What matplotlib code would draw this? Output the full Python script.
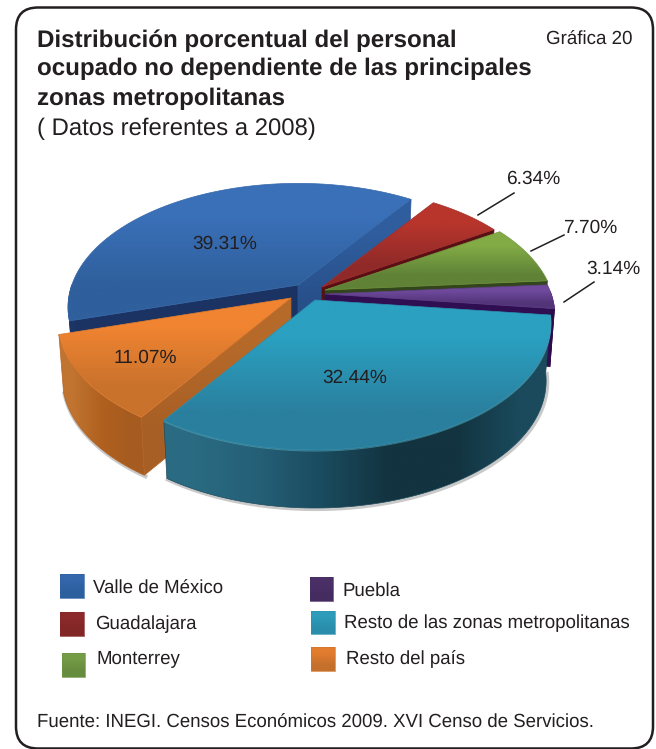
import numpy as np
import matplotlib
matplotlib.use('Agg')
import matplotlib.pyplot as plt
from matplotlib.patches import Polygon, FancyBboxPatch
from matplotlib.colors import to_rgb

plt.rcParams['font.family'] = ['Liberation Sans', 'DejaVu Sans']
plt.rcParams['text.hinting'] = 'no_hinting'

# datos
categorias = ['Valle de México', 'Guadalajara', 'Monterrey', 'Puebla',
              'Resto de las zonas metropolitanas', 'Resto del país']
valores = [39.31, 6.34, 7.70, 3.14, 32.44, 11.07]
titulo = ['Distribución porcentual del personal',
          'ocupado no dependiente de las principales',
          'zonas metropolitanas']
subtitulo = '( Datos referentes a 2008)'
fuente = 'Fuente: INEGI. Censos Económicos 2009. XVI Censo de Servicios.'

# estilos: tapa (arriba, abajo), pared exterior, pared inicial, pared final
ESTILO = {
    'Valle de México': dict(tapa=('#3a70b8', '#2f5f9c'), ext=('#1c3566', '#1c3566'),
                            ini=('#2f5d9d', '#274f88'), fin=('#1b3363', '#1b3363')),
    'Guadalajara': dict(tapa=('#b8352c', '#8f2a29'), ext=None, ini=('#5a0f14', '#5a0f14'), fin=None),
    'Monterrey': dict(tapa=('#83ab45', '#5f8237'), ext=None, ini=('#33451c', '#33451c'), fin=None),
    'Puebla': dict(tapa=('#6f4a9c', '#523478'), ext=('#2f0f52', '#2a0d48'),
                   ini=('#2f0f52', '#2f0f52'), fin=None),
    'Resto de las zonas metropolitanas': dict(tapa=('#2ba0c0', '#2a7f9e'),
                   ext=('#2a6b82', '#245f76', '#1a4a5e', '#12333f', '#12333f', '#1a4a5c'),
                   ini=None, fin=None),
    'Resto del país': dict(tapa=('#f08431', '#c9722c'), ext=('#c07430', '#b0601f', '#a65c20'),
                           ini=None, fin=('#b66a2a', '#a85f25')),
}
VERTICE = {'Valle de México': (298, 285), 'Guadalajara': (322, 287), 'Monterrey': (325, 290),
           'Puebla': (325, 294), 'Resto de las zonas metropolitanas': (315, 300),
           'Resto del país': (291, 298)}
ESCALA = {'Valle de México': 0.975, 'Guadalajara': 0.96, 'Monterrey': 0.975, 'Puebla': 0.975,
          'Resto de las zonas metropolitanas': 1.0, 'Resto del país': 0.99}
ORDEN = ['Valle de México', 'Guadalajara', 'Monterrey', 'Puebla', 'Resto del país',
         'Resto de las zonas metropolitanas']
INICIO = 55.0
RX, RY, K, ALTO = 232.0, 123.0, 0.18, 58.0
TXT = '#231f20'

fig = plt.figure(figsize=(6.56, 7.49), dpi=100)
ax = fig.add_axes([0, 0, 1, 1])
ax.set_axis_off()


def proyecta(ang, v, esc, abajo=False):
    a = np.radians(ang)
    p = esc / (1 + K * np.sin(a))
    dx = RX * np.cos(a) * p
    dy = RY * np.sin(a) * p
    if abajo:
        return np.column_stack([v[0] + dx * 0.98, v[1] - dy + ALTO])
    return np.column_stack([v[0] + dx, v[1] - dy])


def relleno(pts, colores, horizontal=False, z=1):
    pts = np.asarray(pts)
    c = np.array([to_rgb(x) for x in colores])
    g = c[None, :, :] if horizontal else c[:, None, :]
    x0, x1, y0, y1 = pts[:, 0].min(), pts[:, 0].max(), pts[:, 1].min(), pts[:, 1].max()
    im = ax.imshow(g, extent=[x0, x1, y1, y0], aspect='auto', interpolation='bilinear', zorder=z)
    pol = Polygon(pts, closed=True, fc='none', ec='none', transform=ax.transData)
    ax.add_patch(pol)
    im.set_clip_path(pol)
    ax.add_patch(Polygon(pts, closed=True, fill=False, ec=c.mean(axis=0), lw=0.5, zorder=z))


# angulos de cada rebanada a partir de los valores, en sentido antihorario
angulos = {}
a0 = INICIO
for i in [0, 5, 4, 3, 2, 1]:
    a1 = a0 + valores[i] * 3.6
    angulos[categorias[i]] = (a0, a1)
    a0 = a1

z = 2
for cat in ORDEN:
    a0, a1 = angulos[cat]
    v = VERTICE[cat]
    e = ESTILO[cat]
    arco = np.linspace(a0, a1, 120)
    vb = (v[0], v[1] + ALTO)
    sup = proyecta(arco, v, ESCALA[cat])
    inf = proyecta(arco, v, ESCALA[cat], abajo=True)
    if e['fin'] is not None:
        relleno([v, sup[-1], inf[-1], vb], e['fin'], z=z)
        z += 1
    if e['ini'] is not None:
        relleno([v, sup[0], inf[0], vb], e['ini'], z=z)
        z += 1
    if e['ext'] is not None:
        m = np.sin(np.radians(arco)) < 0.02
        s2, i2 = sup[m], inf[m]
        # sombra suave bajo la pared
        if cat in ('Resto de las zonas metropolitanas', 'Resto del país'):
            ax.plot(i2[:, 0] + 1, i2[:, 1] + 1, color='#888888', lw=3, alpha=0.45, zorder=z)
            z += 1
        relleno(np.vstack([s2, i2[::-1]]), e['ext'], horizontal=True, z=z)
        z += 1
        if cat == 'Resto de las zonas metropolitanas':
            ax.plot(s2[:, 0], s2[:, 1] + 1, color='#5fb4c8', lw=0.8, alpha=0.5, zorder=z + 1)
    relleno(np.vstack([[v], sup]), e['tapa'], z=z)
    z += 2

# marco
ax.add_patch(FancyBboxPatch((16, 7.5), 637, 741, boxstyle='round,pad=0,rounding_size=22',
                            fc='none', ec=TXT, lw=1.8, zorder=50))

# titulo
for y, t in zip([41, 69, 99], titulo):
    ax.text(37, y, t, fontsize=17.35, fontweight='bold', color=TXT, va='center', ha='left', zorder=60)
ax.text(37, 129, subtitulo, fontsize=17.2, color=TXT, va='center', ha='left', zorder=60)
ax.text(632, 40, 'Gráfica 20', fontsize=13.5, color=TXT, va='center', ha='right', zorder=60)

# etiquetas de porcentaje
etq = {'Valle de México': (225, 244), 'Guadalajara': (533, 179), 'Monterrey': (590, 228),
       'Puebla': (613, 269), 'Resto de las zonas metropolitanas': (355, 378),
       'Resto del país': (145, 358)}
for cat, val in zip(categorias, valores):
    x, y = etq[cat]
    ax.text(x, y, f'{val:.2f}%', fontsize=13.8, color=TXT, ha='center', va='center', zorder=60)
for x, y in [((514, 478), (193, 215)), ((564, 531), (235, 251)), ((594, 564), (282, 302))]:
    ax.plot(x, y, color=TXT, lw=1.1, zorder=60)

# leyenda
cajas = {'Valle de México': (60, 574, 24, 24), 'Guadalajara': (60, 612, 24, 24),
         'Monterrey': (62, 653, 23, 24), 'Puebla': (310, 577, 23, 24),
         'Resto de las zonas metropolitanas': (311, 611, 24, 23), 'Resto del país': (311, 647, 24, 24)}
ley_txt = {'Valle de México': (93, 589), 'Guadalajara': (95, 624), 'Monterrey': (96, 659),
           'Puebla': (342, 591), 'Resto de las zonas metropolitanas': (344, 623),
           'Resto del país': (346, 659)}
ley_col = {'Valle de México': ('#3467ab', '#2c5f9e'), 'Guadalajara': ('#8c2a2a', '#822626'),
           'Monterrey': ('#749c46', '#668c3e'), 'Puebla': ('#4b3068', '#452c60'),
           'Resto de las zonas metropolitanas': ('#2e9cba', '#2a8dab'),
           'Resto del país': ('#e27c2e', '#c4702c')}
for cat in categorias:
    x, y, w, h = cajas[cat]
    relleno([(x, y), (x + w, y), (x + w, y + h), (x, y + h)], ley_col[cat], z=55)
    tx, ty = ley_txt[cat]
    ax.text(tx, ty, cat, fontsize=13.38, color=TXT, ha='left', va='center', zorder=60)

ax.text(37, 723, fuente, fontsize=13.38, color=TXT, ha='left', va='center', zorder=60)

ax.set_xlim(0, 656)
ax.set_ylim(749, 0)
fig.savefig('out.png', dpi=100, facecolor='white')
